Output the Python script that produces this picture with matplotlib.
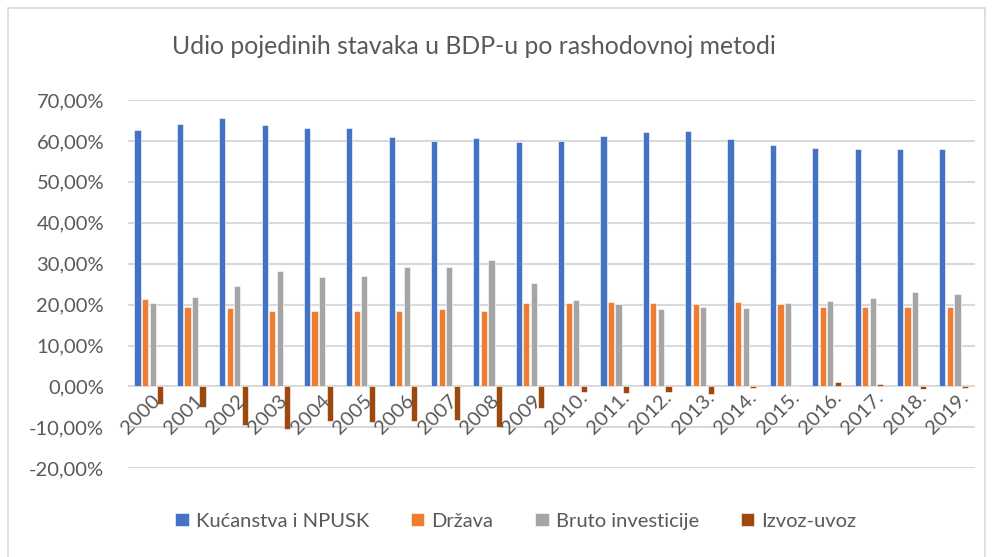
import numpy as np
import matplotlib.pyplot as plt
from matplotlib.patches import Rectangle
from matplotlib.ticker import FuncFormatter

plt.rcParams['font.family'] = ['Lato', 'DejaVu Sans']

# Udio stavaka u BDP-u (%)
godine = [str(g) + '.' for g in range(2000, 2020)]
kucanstva = [62.7, 64.1, 65.7, 63.8, 63.1, 63.2, 60.9, 60.0, 60.6, 59.8,
             60.0, 61.1, 62.2, 62.3, 60.5, 59.1, 58.3, 58.1, 58.1, 58.1]
drzava = [21.3, 19.3, 19.1, 18.4, 18.5, 18.4, 18.4, 18.9, 18.5, 20.5,
          20.5, 20.7, 20.5, 20.2, 20.6, 20.1, 19.5, 19.5, 19.4, 19.5]
investicije = [20.3, 21.8, 24.6, 28.1, 26.8, 27.0, 29.2, 29.2, 30.9, 25.2,
               21.1, 20.1, 18.9, 19.5, 19.1, 20.5, 20.9, 21.7, 23.1, 22.7]
izvoz_uvoz = [-4.3, -5.0, -9.4, -10.3, -8.4, -8.6, -8.4, -8.2, -10.0, -5.2,
              -1.4, -1.6, -1.4, -1.8, -0.3, 0.1, 1.0, 0.6, -0.5, -0.3]

serije = [kucanstva, drzava, investicije, izvoz_uvoz]
nazivi = ['Kućanstva i NPUSK', 'Država', 'Bruto investicije', 'Izvoz-uvoz']
boje = ['#4472c4', '#ed7d31', '#a5a5a5', '#9e480e']
tekst = '#595959'

fig = plt.figure(figsize=(9.92, 5.57), dpi=100)
ax = fig.add_axes([0.1287, 0.1592, 0.854, 0.6613])

x = np.arange(len(godine))
sirina = 0.145
korak = 0.178
for i, (vals, naziv, boja) in enumerate(zip(serije, nazivi, boje)):
    ax.bar(x + (i - 1.5) * korak, vals, sirina, color=boja, label=naziv,
           edgecolor='white', linewidth=0.4, zorder=3)

ax.set_ylim(-20, 70)
ax.set_xlim(-0.5, len(godine) - 0.5)
ax.set_yticks(np.arange(-20, 71, 10))
ax.yaxis.set_major_formatter(FuncFormatter(lambda v, p: f'{v:.2f}'.replace('.', ',') + '%'))
ax.grid(axis='y', color='#d9d9d9', linewidth=1.5, zorder=0)
for s in ax.spines.values():
    s.set_visible(False)
ax.tick_params(axis='y', length=0, labelsize=14.5, colors=tekst, pad=17)
ax.set_xticks([])

# oznake godina uz os nula
for xi, g in zip(x, godine):
    ax.text(xi + 0.14, -0.6, g, rotation=45, ha='right', va='top',
            rotation_mode='anchor', fontsize=14.5, color=tekst)

fig.text(0.478, 0.916, 'Udio pojedinih stavaka u BDP-u po rashodovnoj metodi',
         ha='center', va='center', fontsize=17.8, color=tekst)

fig.legend(loc='center', bbox_to_anchor=(0.52, 0.064), ncol=4, frameon=False,
           fontsize=14.5, labelcolor=tekst, handlelength=0.65, handleheight=0.65,
           handletextpad=0.35, columnspacing=2.1)

# okvir grafikona
fig.patches.append(Rectangle((8 / 992, -0.05), 977 / 992, 1 - 8 / 557 + 0.05,
                             transform=fig.transFigure, fill=False,
                             edgecolor='#d9d9d9', linewidth=1.2))

fig.savefig('out.png', dpi=100)
